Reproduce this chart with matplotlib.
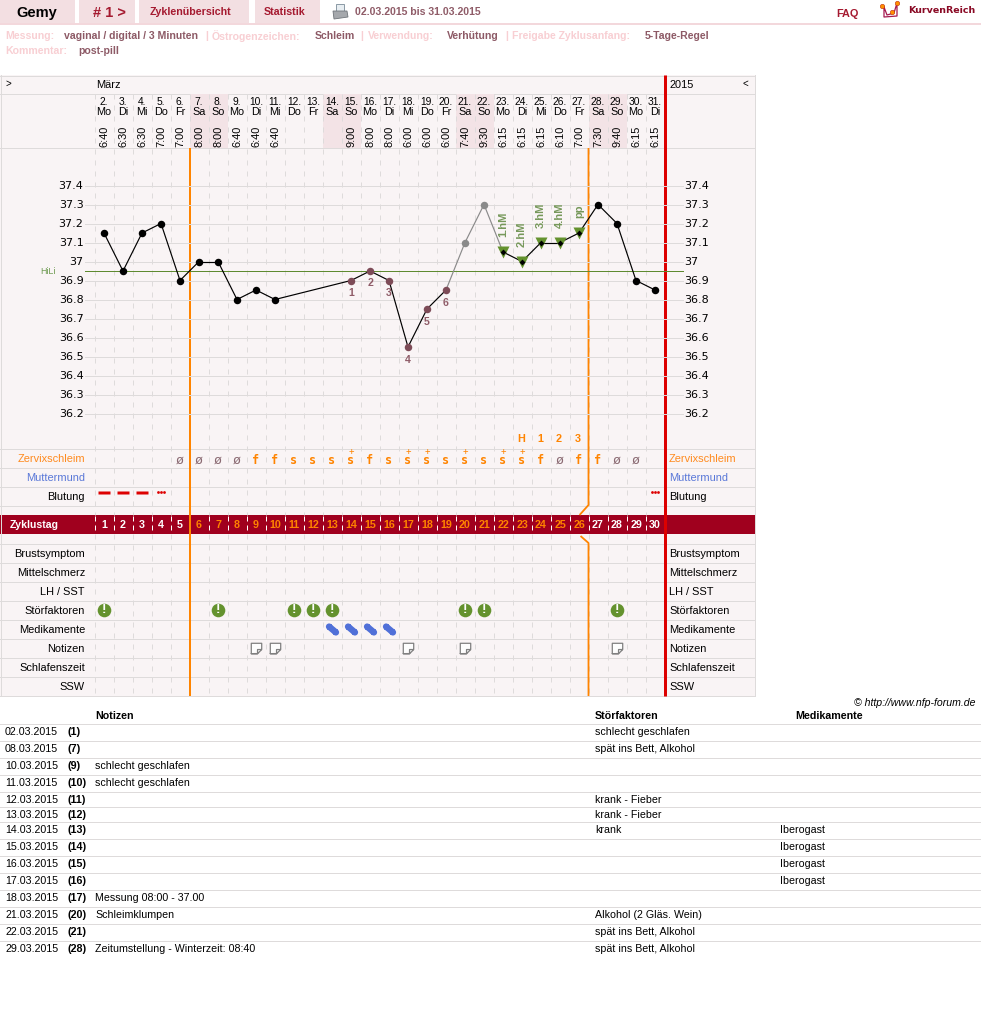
import matplotlib
matplotlib.use("Agg")
import matplotlib.pyplot as plt
from matplotlib.markers import MarkerStyle
from matplotlib.patches import Rectangle, Polygon
from matplotlib.path import Path
from matplotlib.transforms import Affine2D, blended_transform_factory

plt.rcParams['font.family'] = ['Liberation Sans', 'DejaVu Sans']
import logging
logging.getLogger('matplotlib.font_manager').setLevel(logging.ERROR)

# ---------- data ----------
DAYS = list(range(2, 32))
WEEKDAYS = ['Mo','Di','Mi','Do','Fr','Sa','So'] * 4 + ['Mo','Di']
TIMES = ['6:40','6:30','6:30','7:00','7:00','8:00','8:00','6:40','6:40','6:40','','','',
         '9:00','8:00','8:00','6:00','6:00','6:00','7:40','9:30','6:15','6:15','6:15','6:10',
         '7:00','7:30','9:40','6:15','6:15']
TEMPS = [37.15,36.95,37.15,37.2,36.9,37.0,37.0,36.8,36.85,36.8,None,None,None,
         36.9,36.95,36.9,36.55,36.75,36.85,37.1,37.3,37.05,37.0,37.1,37.1,37.15,37.3,37.2,36.9,36.85]
TEMP_TICKS = [37.4,37.3,37.2,37.1,37,36.9,36.8,36.7,36.6,36.5,36.4,36.3,36.2]
HILI = 36.95
BROWN_POINTS = [13,14,15,16,17,18]
GRAY_POINTS = [19,20]
PEAK_LABELS = {21:'1.hM',22:'2.hM',23:'3.hM',24:'4.hM',25:'pp'}
H_LABELS = {22:'H',23:'1',24:'2',25:'3'}
MUCUS = ['','','','','Ø','Ø','Ø','Ø','f','f','s','s','s','S','f','s','S','S','s','S','s','S','S','f','Ø','f','f','Ø','Ø','']
BLEED_DASH = [0,1,2]
BLEED_DOTS = [3,29]
CYCLE_DAYS = list(range(1, 31))
FERTILE = range(5, 26)
DISTURB = [0,6,10,11,12,19,20,27]
MEDS = [12,13,14,15]
NOTES = [8,9,16,19,27]
WEEKEND = [5,6,12,13,19,20,26,27]
ROW_LABELS_TOP = [('Zervixschleim',458,'#ff8a1e'),('Muttermund',477,'#5a78d8'),('Blutung',496,'black')]
ROW_LABELS_BOT = ['Brustsymptom','Mittelschmerz','LH / SST','Störfaktoren','Medikamente','Notizen','Schlafenszeit','SSW']
T_DATES = ['02.03.2015','08.03.2015','10.03.2015','11.03.2015','12.03.2015','13.03.2015','14.03.2015',
           '15.03.2015','16.03.2015','17.03.2015','18.03.2015','21.03.2015','22.03.2015','29.03.2015']
T_CD = [1,7,9,10,11,12,13,14,15,16,17,20,21,28]
T_NOTES = ['','','schlecht geschlafen','schlecht geschlafen','','','','','','','Messung 08:00 - 37.00','Schleimklumpen','','Zeitumstellung - Winterzeit: 08:40']
T_DIST = ['schlecht geschlafen','spät ins Bett, Alkohol','','','krank - Fieber','krank - Fieber','krank','','','','','Alkohol (2 Gläs. Wein)','spät ins Bett, Alkohol','spät ins Bett, Alkohol']
T_MED = ['','','','','','','Iberogast','Iberogast','Iberogast','Iberogast','','','','']
T_Y = [731,748,765,782,799,814,829,846,863,880,897,914,931,948]
T_LINES = [723.5,740.5,757.5,774.5,791.5,806.5,821.5,838.5,855.5,872.5,889.5,906.5,923.5,940.5]

# ---------- layout ----------
W, H = 981, 1015
PX = 0.72
fig = plt.figure(figsize=(W/100, H/100), dpi=100, facecolor='white')
ax = fig.add_axes([0,0,1,1]); ax.set_xlim(0,W); ax.set_ylim(H,0); ax.axis('off')
X0, X1 = 94.5, 664.5
rx = fig.add_axes([0,0,1,1]); rx.set_xlim(-0.5-X0/19, -0.5+(W-X0)/19); rx.set_ylim(H,0); rx.axis('off'); rx.patch.set_alpha(0)
Y_T, Y_B = 148.0, 448.0
tx = fig.add_axes([0,1-Y_B/H,1,(Y_B-Y_T)/H]); tx.set_xlim(rx.get_xlim())
tx.set_ylim(37.4-(Y_B-185.5)/190, 37.4+(185.5-Y_T)/190); tx.axis('off'); tx.patch.set_alpha(0)
hT = blended_transform_factory(ax.transData, tx.transData)

def T(x,y,s,size=8,color='black',ha='left',va='center',weight='normal',**k):
    return ax.text(x,y+0.9,s,fontsize=size,color=color,ha=ha,va=va,fontweight=weight,**k)

BG='#f9f4f5'; PINK='#f3dfe2'; GRID='#dedbdb'; DRED='#a0001e'; ORANGE='#ff8400'; RED='#dd0000'
# nav
for x0,x1 in [(0,75),(79,135),(139,249),(255,320)]:
    ax.add_patch(Rectangle((x0,0),x1-x0,23,fc=PINK,ec='none'))
ax.add_patch(Rectangle((0,23),W,2,fc='#f3d8dc',ec='none'))
T(36.5,12.5,'Gemy',10.5,'black','center',weight='bold')
T(109,12,'# 1 >',10.5,'#a51a30','center',weight='bold')
T(190,11.5,'Zyklenübersicht',7.7,'#a51a30','center',weight='bold')
T(285,11.5,'Statistik',7.7,'#a51a30','center',weight='bold')
# printer icon
ax.add_patch(Rectangle((336,4),8,7,fc='#e8eef2',ec='#8a9aa5',lw=.7))
ax.add_patch(Polygon([(333,11),(347,11),(348,17),(334,19)],fc='#a5a8ac',ec='#70757a',lw=.6))
T(355,11.5,'02.03.2015 bis 31.03.2015',7.6,'#8f5c68',weight='bold')
T(847,13.5,'FAQ',7.8,'#a51a30','center',weight='bold')
# logo
ax.plot([884,887,894,897,897,884,884],[7,15,13,3,16,17,7],color='#a51a50',lw=.9)
ax.plot([882,892,897],[6,12,3],ls='none',marker='o',ms=3.2,mfc='#ff9000',mec='#c03010',mew=.4)
T(908,9.5,'KurvenReich',6.8,'#8a0a25',weight='bold',family='DejaVu Sans')
# meta
L='#f8cfd3'; V='#8d5a66'
for x,y,s,c in [(5,35.5,'Messung:',L),(64,35.5,'vaginal / digital / 3 Minuten',V),(205,35.5,'|',L),(212,35.5,'Östrogenzeichen:',L),
                (315,35.5,'Schleim',V),(360,35.5,'|',L),(368,35.5,'Verwendung:',L),(447,35.5,'Verhütung',V),(505,35.5,'|',L),
                (512,35.5,'Freigabe Zyklusanfang:',L),(645,35.5,'5-Tage-Regel',V),(5,50.5,'Kommentar:',L),(78,50.5,'post-pill',V)]:
    T(x,y,s,7.55,c,weight='bold')

# table frame
ax.add_patch(Rectangle((0,75),755,621,fc=BG,ec='none'))
for i in WEEKEND:
    rx.add_patch(Rectangle((i-.5,94),1,54,fc='#f3e3e6',ec='none'))
ax.add_patch(Rectangle((0,515),755,19,fc=DRED,ec='none',zorder=1))
for y in [75.5,93.5,147.5,448.5,467.5,486.5,505.5,543.5,562.5,581.5,600.5,619.5,638.5,657.5,676.5,695.5]:
    ax.plot([0,755],[y,y],color=GRID,lw=PX,zorder=1.5)
ax.plot([.5,.5],[75,696],color=GRID,lw=PX,zorder=1.5); ax.plot([754.5,754.5],[75,696],color=GRID,lw=PX,zorder=1.5)
for k in range(30):
    b=k-.5
    rx.plot([b,b],[94,515],color=GRID,lw=PX,ls=(0,(5,6)),zorder=1)
    rx.plot([b,b],[516,534],color='white',lw=PX,ls=(0,(5,4)),zorder=1.2)
    rx.plot([b,b],[534,696],color=GRID,lw=PX,ls=(0,(5,6)),zorder=1)

T(6,83,'>',7,'black','left'); T(96,84.5,'März',7.9); T(669,84.5,'2015',7.9); T(748,83,'<',7,'black','right')
NARROW=['Liberation Sans Narrow','Liberation Sans']
for i,(d,w,t) in enumerate(zip(DAYS,WEEKDAYS,TIMES)):
    rx.text(i,101.5,f'{d}.',fontsize=7.4,ha='center',va='center',family=NARROW)
    rx.text(i,111.5,w,fontsize=7.8,ha='center',va='center',family=NARROW)
    if t: rx.text(i,136,t,fontsize=7.9,ha='center',va='center',rotation=90,family=NARROW)

# temperature grid
for t in TEMP_TICKS:
    tx.plot([85,683],[t,t],color=GRID,lw=PX,transform=hT,clip_on=False,zorder=1)
    lab=f'{t:g}'
    tx.annotate(lab,(83.5,t),xycoords=hT,xytext=(0,-.6),textcoords='offset points',fontsize=8,ha='right',va='center',family='DejaVu Sans')
    tx.annotate(lab,(684,t),xycoords=hT,xytext=(0,-.6),textcoords='offset points',fontsize=8,ha='left',va='center',family='DejaVu Sans')
tx.plot([85,683],[HILI,HILI],color='#5f8a30',lw=PX,transform=hT,zorder=1.2)
tx.text(40,HILI,'HiLi',transform=hT,fontsize=6.4,color='#6d9a50',ha='left',va='center')

# vertical cover lines
rx.plot([4.5,4.5],[148,696],color=ORANGE,lw=1.44,zorder=2,clip_on=False,solid_capstyle='butt')
rx.plot([25.5,25.5,25.03],[148,505,515],color=ORANGE,lw=1.3,zorder=2,solid_capstyle='butt')
rx.plot([25.08,25.5,25.5],[536,543,696],color=ORANGE,lw=1.3,zorder=2,solid_capstyle='butt')
rx.plot([29.5,29.5],[75,696],color=RED,lw=2.16,zorder=3,solid_capstyle='butt')

# curve
xs=list(range(30))
gray=set(GRAY_POINTS)
def seg(i,j):
    return '#8a8a8a' if (i in gray or j in gray) else 'black'
valid=[i for i in xs if TEMPS[i] is not None]
for a,b in zip(valid,valid[1:]):
    tx.plot([a,b],[TEMPS[a],TEMPS[b]],color=seg(a,b),lw=.85,zorder=3)
for i in valid:
    c='black'
    if i in BROWN_POINTS: c='#7d4b57'
    if i in gray: c='#8a8a8a'
    if i in PEAK_LABELS:
        tx.plot([i],[TEMPS[i]],marker='v',ms=8.6,color='#64922e',mec='none',zorder=4)
        tx.plot([i],[TEMPS[i]],marker='D',ms=3,color='black',mec='none',zorder=5)
        tx.annotate(PEAK_LABELS[i],(i,TEMPS[i]),xytext=(0,10.5),textcoords='offset points',rotation=90,ha='center',va='bottom',
                    fontsize=8,fontweight='bold',color='#76985a',zorder=5)
    else:
        tx.plot([i],[TEMPS[i]],marker='o',ms=5.4,color=c,mec='none',zorder=4)
for n,i in enumerate(BROWN_POINTS,1):
    tx.annotate(str(n),(i,TEMPS[i]),xytext=(0,-9),textcoords='offset points',ha='center',va='center',fontsize=7.6,fontweight='bold',color='#8f5c68',zorder=5)

for i,s in H_LABELS.items():
    rx.text(i-.05,439.5,s,fontsize=7.8,fontweight='bold',color=ORANGE,ha='center',va='center')

# rows
for s,y,c in ROW_LABELS_TOP:
    T(85,y,s,7.9,c,'right'); T(669,y,s,7.9,c,'left')
for n,s in enumerate(ROW_LABELS_BOT):
    y=553+19*n
    T(85,y,s,7.9,'black','right'); T(669,y,s,7.9,'black','left')
T(10,524.5,'Zyklustag',7.6,'white',weight='bold',zorder=6)
for i,m in enumerate(MUCUS):
    if not m: continue
    if m=='Ø':
        rx.text(i,460.5,'ø',fontsize=9.5,family='DejaVu Sans Mono',color='#8a6a72',ha='center',va='center',zorder=4)
    elif m=='S':
        rx.text(i,461,'s',fontsize=8.5,family='DejaVu Sans Mono',fontweight='bold',color=ORANGE,ha='center',va='center',zorder=4)
        rx.text(i,452,'+',fontsize=6.5,family='DejaVu Sans Mono',color=ORANGE,ha='center',va='center',zorder=4)
    else:
        rx.text(i,460.5,m,fontsize=8.5,family='DejaVu Sans Mono',fontweight='bold',color=ORANGE,ha='center',va='center',zorder=4)
dash=MarkerStyle('s',transform=Affine2D().scale(1,.27))
for i in BLEED_DASH:
    rx.plot([i],[491.5],marker=dash,ms=8,color=RED,mec='none',zorder=4)
for i in BLEED_DOTS:
    for off in (-.17,0,.17):
        rx.plot([i+off],[491.5],marker='o',ms=2,color=RED,mec='none',zorder=4)
for i,d in zip(xs,CYCLE_DAYS):
    rx.text(i,525.5,str(d),fontsize=7.7,fontweight='bold',color=(ORANGE if i in FERTILE else 'white'),ha='center',va='center',zorder=6)

rx.plot(DISTURB,[610]*len(DISTURB),ls='none',marker='o',ms=9.8,color='#64922e',mec='none',zorder=4)
for i in DISTURB:
    rx.text(i,609.7,'!',fontsize=9.5,fontweight='bold',color='white',ha='center',va='center',zorder=5)
capsule=Path.make_compound_path(
    Path.unit_circle().transformed(Affine2D().scale(.42).translate(-.58,0)),
    Path.unit_circle().transformed(Affine2D().scale(.42).translate(.58,0)),
    Path.unit_rectangle().transformed(Affine2D().translate(-.5,-.5).scale(1.16,.84)))
pill=MarkerStyle(capsule,transform=Affine2D().rotate_deg(-40))
rx.plot(MEDS,[629]*len(MEDS),ls='none',marker=pill,ms=11,color='#5070d8',mec='none',zorder=4)
note=Path([(-1,-1),(-1,1),(1,1),(1,-.2),(.2,-1),(-1,-1),(.2,-1),(.2,-.2),(1,-.2)])
rx.plot(NOTES,[648]*len(NOTES),ls='none',marker=note,ms=7.5,mfc='#fdfdfd',mec='#808080',mew=.9,zorder=4)

# bottom table
T(976,702.5,'© http://www.nfp-forum.de',7.6,'black','right',style='italic')
T(95,715.5,'Notizen',7.7,weight='bold'); T(595,715.5,'Störfaktoren',7.7,weight='bold'); T(795,715.5,'Medikamente',7.7,weight='bold')
for y in T_LINES:
    ax.plot([0,W],[y,y],color=GRID,lw=PX)
for y,d,c,n,s,m in zip(T_Y,T_DATES,T_CD,T_NOTES,T_DIST,T_MED):
    T(5,y,d,7.7); T(68,y,f'({c})',7.7,weight='bold')
    if n: T(95,y,n,7.65)
    if s: T(595,y,s,7.65)
    if m: T(780,y,m,7.65)
fig.savefig('out.png',dpi=100,facecolor='white')
